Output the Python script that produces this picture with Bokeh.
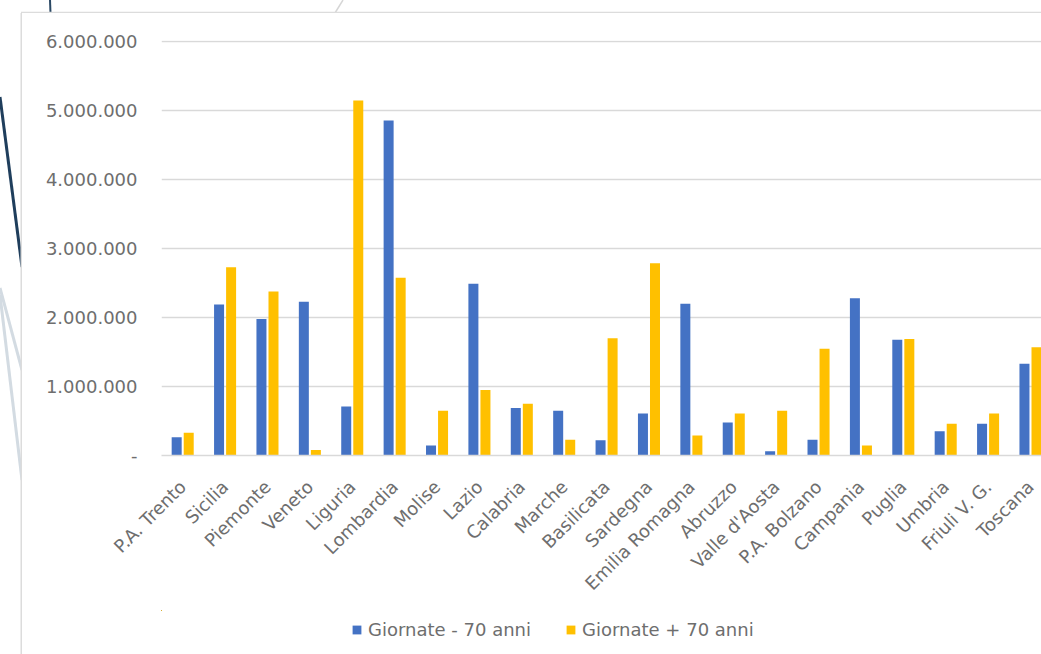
from bokeh.plotting import figure
from bokeh.layouts import column, row
from bokeh.models import (ColumnDataSource, Legend, LegendItem, FixedTicker, Range1d, Div)
from bokeh.transform import dodge
from bokeh.embed import file_html
from bokeh.resources import INLINE

regions = ["P.A. Trento", "Sicilia", "Piemonte", "Veneto", "Liguria", "Lombardia",
           "Molise", "Lazio", "Calabria", "Marche", "Basilicata", "Sardegna",
           "Emilia Romagna", "Abruzzo", "Valle d'Aosta", "P.A. Bolzano", "Campania",
           "Puglia", "Umbria", "Friuli V. G.", "Toscana"]
under70 = [265000, 2190000, 1980000, 2230000, 710000, 4860000, 145000, 2490000,
           690000, 650000, 220000, 610000, 2200000, 480000, 60000, 230000,
           2280000, 1680000, 350000, 460000, 1330000]
over70 = [330000, 2730000, 2380000, 80000, 5150000, 2580000, 650000, 950000,
          750000, 230000, 1700000, 2790000, 290000, 610000, 650000, 1550000,
          145000, 1690000, 460000, 610000, 1570000]
series_names = ["Giornate - 70 anni", "Giornate + 70 anni"]
y_ticks = [0, 1000000, 2000000, 3000000, 4000000, 5000000, 6000000]
y_tick_labels = ["-", "1.000.000", "2.000.000", "3.000.000", "4.000.000",
                 "5.000.000", "6.000.000"]

BLUE = "#4472C4"
YELLOW = "#FFC000"
GRID = "#d9d9d9"
TEXT = "#6e6e6e"
FONT = "DejaVu Sans"
FS = "18px"
CARD = "#dcdcdc"

idx = list(range(len(regions)))
src = ColumnDataSource(dict(x=idx, region=regions, under=under70, over=over70))

p = figure(width=1019, height=597, output_backend="svg", toolbar_location=None,
           x_range=Range1d(-0.5, 20.26), y_range=Range1d(0, 6020000),
           min_border_left=139, min_border_top=27, min_border_right=0,
           min_border_bottom=155)
p.outline_line_color = None
p.background_fill_color = "white"
p.border_fill_color = "white"

off = 0.142
w = 0.236
r1 = p.vbar(x=dodge("x", -off), top="under", width=w, source=src,
            fill_color=BLUE, line_color=None)
r2 = p.vbar(x=dodge("x", off), top="over", width=w, source=src,
            fill_color=YELLOW, line_color=None)

p.xaxis.ticker = FixedTicker(ticks=idx)
p.xaxis.major_label_overrides = {i: r for i, r in zip(idx, regions)}
p.xaxis.major_label_orientation = 0.785398
p.xaxis.major_tick_line_color = None
p.xaxis.minor_tick_line_color = None
p.xaxis.axis_line_color = GRID
p.xaxis.axis_line_width = 1.5
p.xaxis.major_label_text_font = FONT
p.xaxis.major_label_text_font_size = FS
p.xaxis.major_label_text_color = TEXT
p.xaxis.major_label_standoff = 22

p.yaxis.ticker = FixedTicker(ticks=y_ticks)
p.yaxis.major_label_overrides = {t: l for t, l in zip(y_ticks, y_tick_labels)}
p.yaxis.major_tick_line_color = None
p.yaxis.minor_tick_line_color = None
p.yaxis.axis_line_color = None
p.yaxis.major_label_text_font = FONT
p.yaxis.major_label_text_font_size = FS
p.yaxis.major_label_text_color = TEXT
p.yaxis.major_label_standoff = 18

p.xgrid.grid_line_color = None
p.ygrid.grid_line_color = GRID
p.ygrid.grid_line_width = 1.5

# legend strip below the chart (series swatches share the chart's source,
# with the strip's ranges set far away so only the legend shows)
lg = figure(width=1019, height=44, output_backend="svg", toolbar_location=None,
            x_range=Range1d(1000, 1001), y_range=Range1d(-2e8, -1e8),
            min_border_left=0, min_border_right=0, min_border_top=0,
            min_border_bottom=0)
lg.axis.visible = False
lg.grid.visible = False
lg.outline_line_color = None
k1 = lg.vbar(x="x", top="under", width=w, source=src, fill_color=BLUE, line_color=None)
k2 = lg.vbar(x="x", top="over", width=w, source=src, fill_color=YELLOW, line_color=None)
legend = Legend(items=[LegendItem(label=series_names[0], renderers=[k1]),
                       LegendItem(label=series_names[1], renderers=[k2])],
                orientation="horizontal", location=(190, 14), padding=8,
                glyph_width=11, glyph_height=11, label_standoff=6, spacing=34,
                label_text_font=FONT, label_text_font_size=FS,
                label_text_color=TEXT, border_line_color=None,
                background_fill_alpha=0)
lg.add_layout(legend, "center")

# slide decoration around the chart card
top_svg = ('<svg width="1041" height="13" style="display:block">'
           '<line x1="50" y1="0" x2="50.5" y2="13" stroke="#2a4864" stroke-width="2"/>'
           '<line x1="343" y1="0" x2="335" y2="13" stroke="#d6d6d6" stroke-width="1.5"/>'
           f'<line x1="21" y1="12.5" x2="1041" y2="12.5" stroke="{CARD}" stroke-width="1.5"/>'
           '</svg>')
left_svg = ('<svg width="22" height="641" style="display:block">'
            '<line x1="0" y1="84" x2="22" y2="254" stroke="#1f3e5c" stroke-width="3"/>'
            '<line x1="0" y1="275" x2="22" y2="357" stroke="#d3dbe2" stroke-width="3"/>'
            '<line x1="0" y1="282" x2="22" y2="467" stroke="#d3dbe2" stroke-width="3"/>'
            f'<line x1="21.25" y1="0" x2="21.25" y2="641" stroke="{CARD}" stroke-width="1.5"/>'
            '</svg>')
top_div = Div(text=top_svg, width=1041, height=13, margin=0,
              styles={"padding": "0", "overflow": "hidden", "line-height": "0"})
left_div = Div(text=left_svg, width=22, height=641, margin=0,
               styles={"padding": "0", "overflow": "hidden", "line-height": "0"})

layout = column(top_div, row(left_div, column(p, lg, spacing=0), spacing=0), spacing=0)
html = file_html(layout, INLINE)
open("out.html", "w").write(html)
